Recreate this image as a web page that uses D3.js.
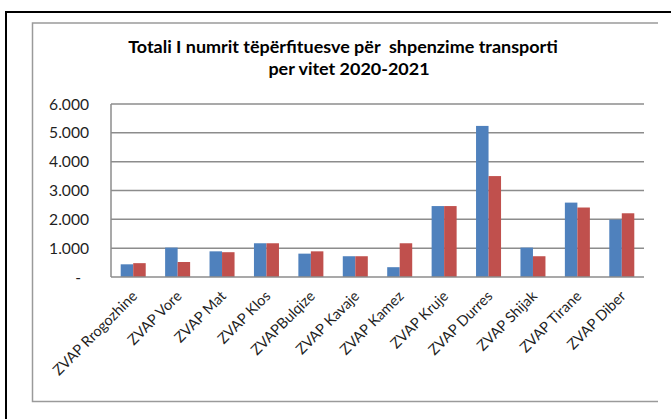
<!DOCTYPE html>
<html>
<head>
<meta charset="utf-8">
<script src="https://cdn.jsdelivr.net/npm/d3@7"></script>
<style>
  html, body { margin: 0; padding: 0; background: #fff; }
  svg { display: block; }
  text { font-family: Lato, "Open Sans", sans-serif; }
</style>
</head>
<body>
<svg id="graf" width="671" height="419"></svg>
<script>
// ---------------- données ----------------
const zonat = ["ZVAP Rrogozhine", "ZVAP Vore", "ZVAP Mat", "ZVAP Klos", "ZVAPBulqize", "ZVAP Kavaje",
               "ZVAP Kamez", "ZVAP Kruje", "ZVAP Durres", "ZVAP Shijak", "ZVAP Tirane", "ZVAP Diber"];
const viti2020 = [440, 1020, 890, 1170, 810, 720, 340, 2460, 5240, 1020, 2580, 1990];
const viti2021 = [480, 520, 860, 1170, 890, 720, 1170, 2460, 3500, 720, 2410, 2210];
const seritë = ["2020", "2021"];
const ngjyrat = ["#4F81BD", "#C0504D"];
const yTicks = [0, 1000, 2000, 3000, 4000, 5000, 6000];
const titulli = ["Totali I numrit tëpërfituesve për  shpenzime transporti", "per vitet 2020-2021"];

const svg = d3.select("#graf");

// ajuste la taille de police pour obtenir une largeur donnée
function ajusterTexte(sel, largeur, taille) {
    sel.style("font-size", taille + "px");
    let w = sel.node().getComputedTextLength();
    let t = taille * largeur / w;
    sel.style("font-size", t + "px");
    return t;
}

// ---------------- cadres ----------------
svg.append("path")
    .attr("d", "M6,419 V12 H671")
    .attr("fill", "none")
    .attr("stroke", "#000")
    .attr("stroke-width", 2);

svg.append("path")
    .attr("d", "M658,23 H32.5 V401.5 H658")
    .attr("fill", "none")
    .attr("stroke", "#9a9a9a")
    .attr("stroke-width", 1.5);

// ---------------- titre ----------------
let t1 = svg.append("text")
    .attr("x", 343).attr("y", 53)
    .attr("text-anchor", "middle")
    .style("font-weight", "bold")
    .style("white-space", "pre")
    .attr("fill", "#000")
    .text(titulli[0]);
let tailleTitre = ajusterTexte(t1, 430, 16);

svg.append("text")
    .attr("x", 349).attr("y", 74.5)
    .attr("text-anchor", "middle")
    .style("font-weight", "bold")
    .style("font-size", tailleTitre + "px")
    .attr("fill", "#000")
    .text(titulli[1]);

// ---------------- échelles ----------------
const x0 = d3.scaleBand()
    .domain(zonat)
    .range([111, 644])
    .paddingInner(0.437)
    .paddingOuter(0.2185);

const x1 = d3.scaleBand()
    .domain(seritë)
    .range([0, x0.bandwidth()]);

const y = d3.scaleLinear()
    .domain([0, 6000])
    .range([277, 104]);

// ---------------- grille ----------------
svg.append("g")
    .selectAll("line")
    .data(yTicks.filter(d => d > 0))
    .join("line")
    .attr("x1", 111).attr("x2", 644)
    .attr("y1", d => y(d)).attr("y2", d => y(d))
    .attr("stroke", "#8c8c8c")
    .attr("stroke-width", 1.5);

// ---------------- barres ----------------
const groupes = svg.append("g")
    .selectAll("g")
    .data(zonat.map((z, i) => ({ zona: z, vlerat: [viti2020[i], viti2021[i]] })))
    .join("g")
    .attr("transform", d => "translate(" + x0(d.zona) + ",0)");

groupes.selectAll("rect")
    .data(d => d.vlerat.map((v, j) => ({ seria: seritë[j], v: v, c: ngjyrat[j] })))
    .join("rect")
    .attr("x", d => x1(d.seria))
    .attr("y", d => y(d.v))
    .attr("width", x1.bandwidth())
    .attr("height", d => y(0) - y(d.v))
    .attr("fill", d => d.c);

// ---------------- axes ----------------
svg.append("line")
    .attr("x1", 111).attr("x2", 111)
    .attr("y1", y(6000)).attr("y2", y(0))
    .attr("stroke", "#8c8c8c").attr("stroke-width", 1.5);
svg.append("line")
    .attr("x1", 111).attr("x2", 644)
    .attr("y1", y(0)).attr("y2", y(0))
    .attr("stroke", "#8c8c8c").attr("stroke-width", 1.5);

const fmt = d3.formatLocale({ decimal: ",", thousands: ".", grouping: [3], currency: ["", ""] }).format(",.0f");

let yLabels = svg.append("g")
    .selectAll("text")
    .data(yTicks)
    .join("text")
    .attr("x", d => d === 0 ? 81 : 89)
    .attr("y", d => y(d))
    .attr("dy", "0.36em")
    .attr("text-anchor", "end")
    .attr("fill", "#1f1f1f")
    .text(d => d === 0 ? "-" : fmt(d));
let tailleY = ajusterTexte(yLabels.filter(d => d === 6000), 40, 14);
yLabels.style("font-size", tailleY + "px");

let xLabels = svg.append("g")
    .selectAll("text")
    .data(zonat)
    .join("text")
    .attr("text-anchor", "end")
    .attr("transform", d => "translate(" + (x0(d) + x0.bandwidth() / 2 + 5) + ",297) rotate(-45)")
    .attr("fill", "#1f1f1f")
    .text(d => d);
let tailleX = ajusterTexte(xLabels.filter((d, i) => i === 0), 112, 13);
xLabels.style("font-size", tailleX + "px");
</script>
</body>
</html>
